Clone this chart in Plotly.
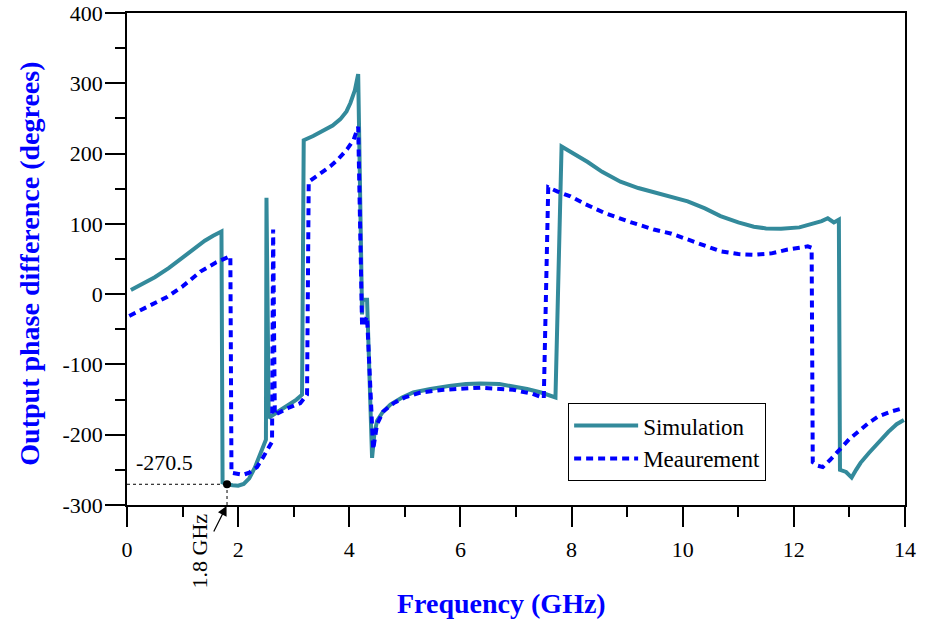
import plotly.graph_objects as go

# ---- data ----
sim_freq = [0.07, 0.3, 0.5, 0.75, 1.0, 1.2, 1.4, 1.55, 1.70,
            1.72, 1.8, 1.9, 2.0, 2.1, 2.2, 2.3, 2.4, 2.45, 2.5,
            2.51, 2.55, 2.7, 2.9, 3.05, 3.15,
            3.18, 3.35, 3.53, 3.7, 3.84, 3.95, 4.02, 4.1, 4.16,
            4.23, 4.24, 4.32, 4.41, 4.45, 4.5, 4.6, 4.74, 4.95, 5.15, 5.46, 5.8, 6.1, 6.36,
            6.7, 6.95, 7.2, 7.45, 7.71,
            7.82, 8.05, 8.29, 8.55, 8.88, 9.2, 9.48, 9.8, 10.09, 10.4, 10.68, 11.0, 11.28,
            11.5, 11.77, 12.1, 12.36, 12.5, 12.61, 12.72, 12.81,
            12.83, 12.94, 13.04, 13.12, 13.2, 13.35, 13.51, 13.7, 13.85, 13.98]
sim_phase = [6, 15, 24, 37, 52, 65, 76, 83, 89,
             -268, -270.5, -272, -272.5, -270, -262, -247, -225, -214, -207,
             137, -176, -168, -158, -150, -143,
             219, 225, 232, 240, 249, 260, 272, 290, 313,
             -29, -8, -8, -233, -200, -180, -168, -157, -147, -140, -135, -130.5, -128, -127,
             -128, -131, -135, -140, -147,
             210, 200, 188, 174, 160, 151, 145, 139, 132, 122, 111, 102, 96,
             93.5, 93, 95, 100, 104, 108, 102, 106,
             -250, -253, -261, -250, -240, -226, -212, -196, -185, -179]

meas_freq = [0.04, 0.3, 0.5, 0.72, 1.0, 1.32, 1.6, 1.75, 1.86,
             1.88, 2.0, 2.09, 2.2, 2.34, 2.45, 2.55, 2.61,
             2.63, 2.66, 2.7, 2.9, 3.12, 3.24,
             3.27, 3.45, 3.66, 3.8, 3.96, 4.08, 4.16,
             4.23, 4.32, 4.43, 4.5, 4.61, 4.8, 5.0, 5.28, 5.7, 6.36, 6.95, 7.3, 7.5,
             7.58, 7.75, 7.98, 8.25, 8.58, 9.0, 9.48, 9.8, 10.09, 10.4, 10.68, 11.0, 11.28,
             11.6, 11.89, 12.1, 12.25, 12.32,
             12.34, 12.43, 12.52, 12.65, 12.85, 13.0, 13.2, 13.35, 13.51, 13.75, 13.98]
meas_phase = [-31, -21, -13, -4, 11, 32, 45, 51, 54,
              -254, -256, -257, -254, -246, -232, -218, -210,
              92, -172, -170, -162, -155, -143,
              160, 170, 182, 192, 206, 220, 238,
              -46, -32, -221, -185, -167, -155, -147, -140, -136, -133, -136, -142, -148,
              152, 146, 139, 128, 116, 104, 92, 86, 78, 69, 61, 57, 56,
              58, 63.5, 66, 68, 66,
              -239, -244, -246, -236, -219, -206, -193, -183, -174.5, -167, -162]

marker_freq = [1.8]
marker_phase = [-270.5]

x_ticks = [0, 2, 4, 6, 8, 10, 12, 14]
y_ticks = [-300, -200, -100, 0, 100, 200, 300, 400]

FONT = "Liberation Serif"
SIM_COLOR = "#338a9b"
MEAS_COLOR = "#0000ff"

fig = go.Figure()
fig.add_trace(go.Scatter(x=sim_freq, y=sim_phase, mode="lines", name="Simulation",
                         line=dict(color=SIM_COLOR, width=4)))
fig.add_trace(go.Scatter(x=meas_freq, y=meas_phase, mode="lines", name="Meaurement",
                         line=dict(color=MEAS_COLOR, width=4, dash="7px,5px")))

# dotted guide lines to the marked point
fig.add_shape(type="line", x0=0, x1=marker_freq[0], y0=marker_phase[0], y1=marker_phase[0],
              line=dict(color="black", width=1, dash="dot"))
fig.add_shape(type="line", x0=marker_freq[0], x1=marker_freq[0], y0=-300, y1=marker_phase[0],
              line=dict(color="black", width=1, dash="dot"))
fig.add_trace(go.Scatter(x=marker_freq, y=marker_phase, mode="markers", showlegend=False,
                         marker=dict(color="black", size=8), cliponaxis=False))

fig.add_annotation(x=0.68, y=-240, xref="x", yref="y", text="-270.5", showarrow=False,
                   font=dict(family=FONT, size=22, color="black"))
fig.add_annotation(x=1.3, y=-0.094, xref="x", yref="paper", xanchor="center", yanchor="middle",
                   text="1.8 GHz", textangle=-90,
                   showarrow=False, font=dict(family=FONT, size=22, color="black"))
fig.add_annotation(x=1.8, y=-300, xref="x", yref="y", text="", showarrow=True,
                   ax=-14, ay=28, arrowhead=2, arrowsize=1.6, arrowwidth=1.2,
                   arrowcolor="black", standoff=1)

# axis titles
fig.add_annotation(x=0.482, y=-0.2, xref="paper", yref="paper", yanchor="middle",
                   text="<b>Frequency (GHz)</b>", showarrow=False,
                   font=dict(family=FONT, size=28, color="#0000ff"))
fig.add_annotation(x=-0.125, y=0.49, xref="paper", yref="paper", xanchor="center",
                   text="<b>Output phase difference (degrees)</b>", textangle=-90,
                   showarrow=False, font=dict(family=FONT, size=28, color="#0000ff"))

axis_common = dict(showline=True, linecolor="black", linewidth=1.5, mirror=True,
                   ticks="outside", ticklen=20, tickwidth=1.5, tickcolor="black",
                   showgrid=False, zeroline=False,
                   tickfont=dict(family=FONT, size=22, color="black"))

fig.update_xaxes(range=[0, 14], tickvals=x_ticks, ticktext=[str(v) for v in x_ticks],
                 minor=dict(dtick=1, ticklen=10, tickwidth=1.5, tickcolor="black",
                            ticks="outside", showgrid=False),
                 ticklabelstandoff=4, **axis_common)
fig.update_yaxes(range=[-300, 400], tickvals=y_ticks, ticktext=[str(v) for v in y_ticks],
                 minor=dict(dtick=50, ticklen=10, tickwidth=1.5, tickcolor="black",
                            ticks="outside", showgrid=False),
                 ticklabelstandoff=-2, **axis_common)

fig.update_layout(
    width=925, height=619,
    margin=dict(l=127, r=20, t=13, b=114, autoexpand=False),
    paper_bgcolor="white", plot_bgcolor="white",
    font=dict(family=FONT, color="black"),
    legend=dict(x=0.567, y=0.207, xanchor="left", yanchor="top",
                bgcolor="white", bordercolor="black", borderwidth=1,
                font=dict(family=FONT, size=23, color="black"),
                itemwidth=64),
)

fig.write_html("out.html", config={"displayModeBar": False},
               post_script="document.body.style.margin='0';document.body.style.padding='0';")
